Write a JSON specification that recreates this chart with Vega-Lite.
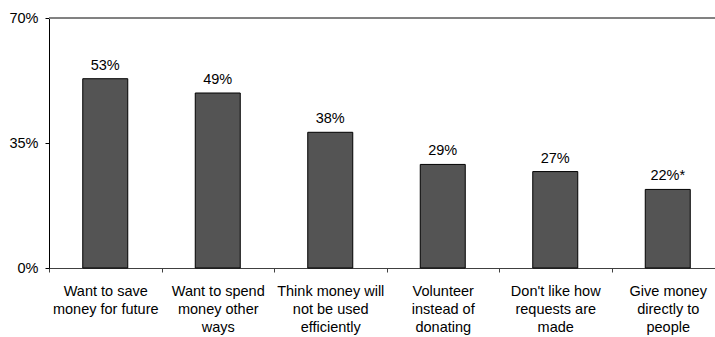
{
  "$schema": "https://vega.github.io/schema/vega-lite/v6.json",
  "autosize": "none",
  "width": 675,
  "height": 250,
  "padding": {"left": 49, "top": 18, "right": 0, "bottom": 69},
  "background": "white",
  "config": {
    "view": {"stroke": null},
    "font": "Liberation Sans",
    "axis": {"labelFont": "Liberation Sans", "labelFontSize": 14.5, "labelColor": "black", "titleFont": "Liberation Sans"}
  },
  "data": {
    "values": [
      {"reason": "Want to save|money for future", "value": 53, "label": "53%"},
      {"reason": "Want to spend|money other|ways", "value": 49, "label": "49%"},
      {"reason": "Think money will|not be used|efficiently", "value": 38, "label": "38%"},
      {"reason": "Volunteer|instead of|donating", "value": 29, "label": "29%"},
      {"reason": "Don't like how|requests are|made", "value": 27, "label": "27%"},
      {"reason": "Give money|directly to|people", "value": 22, "label": "22%*"}
    ]
  },
  "encoding": {
    "x": {
      "field": "reason",
      "type": "nominal",
      "sort": null,
      "scale": {"paddingInner": 0, "paddingOuter": 0},
      "axis": {
        "title": null,
        "labelAngle": 0,
        "labelExpr": "split(datum.label, '|')",
        "labelLineHeight": 18.3,
        "labelBaseline": "top",
        "labelPadding": 12,
        "tickBand": "extent",
        "tickSize": 4,
        "tickColor": "#404040",
        "domainColor": "#404040",
        "labelLimit": 200
      }
    },
    "y": {
      "field": "value",
      "type": "quantitative",
      "scale": {"domain": [0, 70], "nice": false},
      "axis": {
        "title": null,
        "values": [0, 35, 70],
        "labelExpr": "datum.value + '%'",
        "grid": false,
        "tickSize": 4,
        "labelPadding": 7,
        "tickColor": "black",
        "domainColor": "black"
      }
    }
  },
  "layer": [
    {
      "mark": {"type": "rule", "color": "#808080", "strokeWidth": 1},
      "encoding": {"y": {"datum": 70}, "x": null}
    },
    {
      "mark": {"type": "bar", "width": {"band": 0.4}, "color": "#545454", "stroke": "black", "strokeWidth": 1}
    },
    {
      "mark": {"type": "text", "dy": -9, "baseline": "alphabetic", "fontSize": 14.5, "font": "Liberation Sans", "color": "black"},
      "encoding": {"text": {"field": "label"}}
    }
  ]
}
